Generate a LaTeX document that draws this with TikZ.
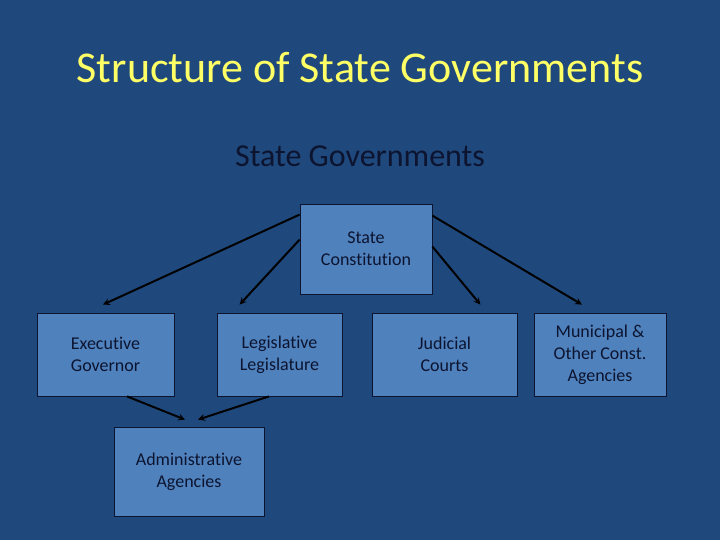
\documentclass[tikz,border=0pt]{standalone}
\usepackage{fontspec}
\setmainfont{Carlito}[Ligatures=NoCommon]
\usepackage{xcolor}
\usetikzlibrary{arrows, positioning}
\definecolor{slideblue}{RGB}{31, 73, 125}
\definecolor{boxblue}{RGB}{79, 129, 189}
\definecolor{titleyellow}{RGB}{255, 255, 102}
\definecolor{inkblue}{RGB}{12, 20, 48}
\tikzstyle{branch} = [rectangle, minimum height=83pt, text centered, align=center, line width=0.8pt, draw=inkblue, fill=boxblue, text=inkblue, font=\fontsize{18}{22}\selectfont]
\tikzstyle{arrow} = [line width=2pt,->,>=stealth, draw=black]
\begin{document}
\begin{tikzpicture}[x=1pt, y=-1pt, node distance=2cm]

% Slide background
\fill [slideblue] (0,0) rectangle (720,540);

% Headings
\node (title) at (360,68) [text=titleyellow, font=\fontsize{44}{52}\selectfont] {Structure of State Governments};
\node (heading) at (360,156) [text=inkblue, font=\fontsize{32}{38}\selectfont] {State Governments};

% Constitution
\node (const) at (366,249) [branch, minimum width=132pt, minimum height=90pt] {State\\Constitution};

% Branches
\node (exec) at (105.5,354.5) [branch, minimum width=137pt] {Executive\\Governor};
\node (legis) [branch, right of=exec, xshift=117.1pt, minimum width=125pt] {Legislative\\Legislature};
\node (judicial) [branch, right of=legis, xshift=108.1pt, minimum width=145pt] {Judicial\\Courts};
\node (municipal) [branch, right of=judicial, xshift=98.6pt, minimum width=132pt] {Municipal \&\\Other Const.\\Agencies};

% Agencies
\node (admin) at (189,471.5) [branch, minimum width=150pt, minimum height=89pt] {Administrative\\Agencies};

% Arrows
\draw [arrow] ([yshift=-11pt]const.north west) -- ([xshift=-2.5pt,yshift=8pt]exec.north);
\draw [arrow] ([yshift=-36pt]const.north west) -- ([xshift=23pt,yshift=8pt]legis.north west);
\draw [arrow] ([yshift=-43pt]const.north east) -- ([xshift=-37pt,yshift=8pt]judicial.north east);
\draw [arrow] ([yshift=-12pt]const.north east) -- ([xshift=-18pt,yshift=8pt]municipal.north);
\draw [arrow] ([xshift=21.5pt]exec.south) -- ([xshift=-4pt,yshift=7pt]admin.north);
\draw [arrow] ([xshift=-10.5pt]legis.south) -- ([xshift=9pt,yshift=7pt]admin.north);

\end{tikzpicture}
\end{document}
